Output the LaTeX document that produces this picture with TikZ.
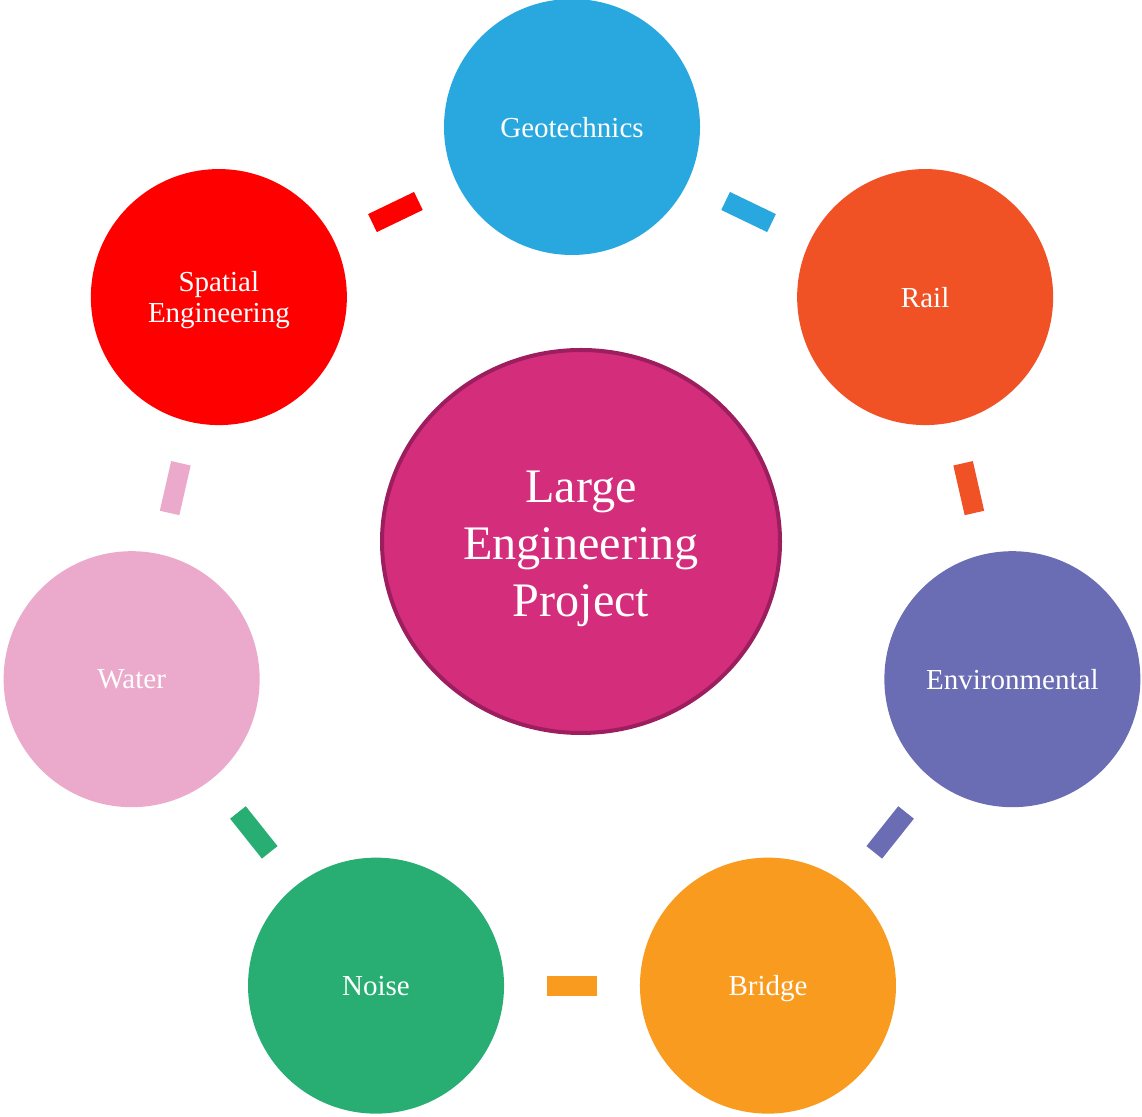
\documentclass[tikz,border=0pt]{standalone}
\usepackage{fontspec}
\setmainfont{Liberation Serif}
\usetikzlibrary{shapes.geometric}

\definecolor{geoblue}{HTML}{29A8E0}
\definecolor{railred}{HTML}{F05125}
\definecolor{envpurple}{HTML}{6A6DB4}
\definecolor{bridgeorange}{HTML}{F99B1F}
\definecolor{noisegreen}{HTML}{28AE73}
\definecolor{waterpink}{HTML}{EBAACB}
\definecolor{spatialred}{HTML}{FF0000}
\definecolor{hubpink}{HTML}{D42D7B}
\definecolor{hubrim}{HTML}{9C1E5F}

\begin{document}
\begin{tikzpicture}[
  petal/.style={circle, minimum size=5.12cm, inner sep=0, outer sep=0, text=white, text depth=0pt,
    align=center, font=\fontsize{16.5}{18}\selectfont},
  link/.style={line width=0.4cm, shorten <=0.85cm, shorten >=0.85cm}
]
\useasboundingbox (0,0) rectangle (22.84,22.32);
\coordinate (o) at (11.44,10.746);

\node[ellipse, draw=hubrim, line width=0.08cm, fill=hubpink, minimum width=7.96cm, minimum height=7.66cm,
  text=white, font=\fontsize{27.4}{32.4}\selectfont] (hub) at (11.62,11.49)
  {\raisebox{-0.13cm}[\height][\depth]{\begin{tabular}{@{}c@{}}Large\\Engineering\\Project\end{tabular}}};

\node[petal, fill=geoblue]      (geo)     at ([shift={(90:9.034)}]o)      {Geotechnics};
\node[petal, fill=railred]      (rail)    at ([shift={(38.571:9.034)}]o)  {Rail};
\node[petal, fill=envpurple]    (env)     at ([shift={(-12.857:9.034)}]o) {Environmental};
\node[petal, fill=bridgeorange] (bridge)  at ([shift={(-64.286:9.034)}]o) {Bridge};
\node[petal, fill=noisegreen]   (noise)   at ([shift={(-115.714:9.034)}]o) {Noise};
\node[petal, fill=waterpink]    (water)   at ([shift={(-167.143:9.034)}]o) {Water};
\node[petal, fill=spatialred]   (spatial) at ([shift={(141.429:9.034)}]o) {Spatial\\Engineering};

% bars between neighbours, coloured after the first one
\foreach \a/\b/\c in {geo/rail/geoblue, rail/env/railred, env/bridge/envpurple, bridge/noise/bridgeorange,
  noise/water/noisegreen, water/spatial/waterpink, spatial/geo/spatialred} {
 \draw[link, \c] (\a) -- (\b);
}
\end{tikzpicture}
\end{document}
